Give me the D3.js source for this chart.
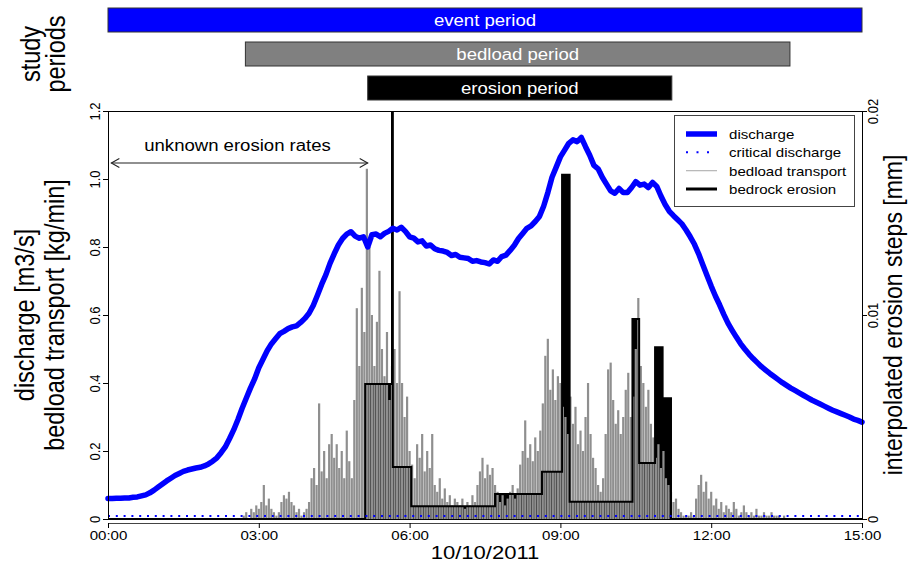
<!DOCTYPE html>
<html>
<head>
<meta charset="utf-8">
<script src="https://cdn.jsdelivr.net/npm/d3@7"></script>
<style>
  body { margin: 0; background: #fff; }
  svg { font-family: "Liberation Sans", Arial, Helvetica, sans-serif; }
</style>
</head>
<body>
<svg id="chart" width="912" height="562"></svg>
<script>
// ---- data ----
const eventDay = '2011-10-10';
const dateLabel = '10/10/2011';

const periodNames = ['event period', 'bedload period', 'erosion period'];
const periodStart = ['00:00', '02:44', '05:10'];
const periodEnd = ['15:00', '13:34', '11:13'];

const xTicks = ['00:00', '03:00', '06:00', '09:00', '12:00', '15:00'];
const yTicks = [0, 0.2, 0.4, 0.6, 0.8, 1.0, 1.2];
const yTickLabels = ['0', '0.2', '0.4', '0.6', '0.8', '1.0', '1.2'];
const yRightTicks = [0, 0.01, 0.02];
const yRightTickLabels = ['0', '0.01', '0.02'];

// discharge [m3/s], every 5 minutes from 00:00 to 15:00 (one row per hour)
const dischargeStepMin = 5;
const discharge = [
  0.060, 0.060, 0.061, 0.061, 0.062, 0.062, 0.064, 0.065, 0.068, 0.071, 0.077, 0.085,
  0.094, 0.103, 0.112, 0.120, 0.128, 0.134, 0.140, 0.144, 0.147, 0.150, 0.152, 0.156,
  0.162, 0.170, 0.180, 0.195, 0.212, 0.236, 0.262, 0.292, 0.325, 0.355, 0.385, 0.412,
  0.445, 0.470, 0.495, 0.515, 0.530, 0.545, 0.552, 0.560, 0.565, 0.568, 0.578, 0.590,
  0.605, 0.628, 0.658, 0.690, 0.718, 0.752, 0.780, 0.806, 0.825, 0.838, 0.845, 0.832,
  0.826, 0.830, 0.800, 0.836, 0.838, 0.830, 0.840, 0.846, 0.855, 0.850, 0.858, 0.846,
  0.830, 0.826, 0.815, 0.818, 0.803, 0.806, 0.795, 0.790, 0.788, 0.784, 0.775, 0.778,
  0.770, 0.768, 0.766, 0.758, 0.760, 0.756, 0.754, 0.750, 0.762, 0.758, 0.772, 0.776,
  0.790, 0.805, 0.825, 0.840, 0.855, 0.862, 0.875, 0.890, 0.920, 0.960, 1.005, 1.035,
  1.065, 1.085, 1.105, 1.115, 1.110, 1.122, 1.095, 1.070, 1.040, 1.030, 1.005, 0.985,
  0.965, 0.958, 0.972, 0.960, 0.960, 0.975, 0.992, 0.982, 0.985, 0.975, 0.990, 0.978,
  0.950, 0.925, 0.905, 0.892, 0.880, 0.868, 0.850, 0.830, 0.808, 0.780, 0.748, 0.716,
  0.685, 0.656, 0.630, 0.602, 0.576, 0.555, 0.535, 0.516, 0.500, 0.485, 0.472, 0.460,
  0.448, 0.438, 0.428, 0.419, 0.410, 0.401, 0.393, 0.385, 0.378, 0.371, 0.364, 0.357,
  0.350, 0.344, 0.338, 0.332, 0.326, 0.320, 0.315, 0.310, 0.305, 0.300, 0.294, 0.290,
  0.285
];
const criticalDischarge = 0.009;

// bedload transport [kg/min], every 3 minutes from 02:42
const bedloadStart = '02:42';
const bedloadStepMin = 3;
const bedload = [
  0.01, 0.02, 0.00, 0.03, 0.02, 0.04,
  0.03, 0.05, 0.10, 0.04, 0.06, 0.03, 0.02, 0.01, 0.02, 0.05, 0.07, 0.06, 0.08, 0.05, 0.04, 0.02, 0.03, 0.01, 0.02, 0.03,
  0.05, 0.12, 0.15, 0.10, 0.34, 0.14, 0.20, 0.12, 0.22, 0.25, 0.18, 0.22, 0.15, 0.20, 0.12, 0.26, 0.17, 0.12, 0.35, 0.62,
  0.45, 0.68, 0.55, 1.03, 0.80, 0.60, 0.45, 0.58, 0.73, 0.50, 0.42, 0.55, 0.35, 0.45, 0.50, 0.40, 0.67, 0.40, 0.30, 0.36,
  0.20, 0.16, 0.12, 0.22, 0.18, 0.25, 0.14, 0.20, 0.15, 0.25, 0.10, 0.08, 0.12, 0.06, 0.09, 0.05, 0.07, 0.04, 0.06, 0.05,
  0.04, 0.06, 0.03, 0.05, 0.04, 0.07, 0.05, 0.10, 0.14, 0.18, 0.12, 0.16, 0.13, 0.15, 0.10, 0.08, 0.05, 0.07, 0.04, 0.06,
  0.08, 0.10, 0.06, 0.09, 0.16, 0.20, 0.29, 0.18, 0.22, 0.17, 0.24, 0.20, 0.26, 0.34, 0.48, 0.53, 0.38, 0.44, 0.35, 0.42,
  0.40, 0.33, 0.30, 0.25, 0.36, 0.28, 0.33, 0.22, 0.26, 0.20, 0.30, 0.40, 0.25, 0.18, 0.15, 0.10, 0.08, 0.12, 0.25, 0.44,
  0.46, 0.35, 0.28, 0.32, 0.25, 0.30, 0.38, 0.43, 0.30, 0.36, 0.50, 0.65, 0.45, 0.40, 0.33, 0.38, 0.28, 0.24, 0.18, 0.22,
  0.15, 0.20, 0.12, 0.10, 0.08, 0.05, 0.06, 0.03, 0.02, 0.01, 0.01, 0.01, 0.02, 0.01, 0.06, 0.10, 0.13, 0.08, 0.11, 0.06,
  0.08, 0.04, 0.06, 0.03, 0.05, 0.02, 0.04, 0.03, 0.02, 0.05, 0.03, 0.01, 0.02, 0.04, 0.02, 0.01, 0.02, 0.01, 0.03, 0.01,
  0.01, 0.02, 0.01, 0.01, 0.02, 0.01, 0.01, 0.01, 0.00, 0.01, 0.00
];

// interpolated bedrock erosion steps [mm], value holds from each time to the next
const erosionTimes = ['00:00', '05:07', '05:39', '05:40', '06:02', '07:42', '08:38', '09:02', '09:11', '10:26', '10:34', '10:53', '11:02', '11:12', '15:00'];
const erosionMm = [0, 0.00662, 0.03, 0.00255, 0.00063, 0.00123, 0.00232, 0.01687, 0.00085, 0.0098, 0.00275, 0.00842, 0.00592, 0, 0];

const unknownLabel = 'unknown erosion rates';
const unknownFrom = '00:04';
const unknownTo = '05:10';

const legendLabels = ['discharge', 'critical discharge', 'bedload transport', 'bedrock erosion'];

// ---- helpers ----
const parse = d3.utcParse('%Y-%m-%d %H:%M');
const at = s => parse(`${eventDay} ${s}`);
const addMin = (d, m) => new Date(d.getTime() + m * 60000);
const SX = 1.16; // the figure is a bit wider than tall: text is stretched sideways

const svg = d3.select('#chart');
const plot = { left: 108, right: 862, top: 111, bottom: 519 };

const x = d3.scaleUtc().domain([at('00:00'), at('15:00')]).range([plot.left, plot.right]);
const y = d3.scaleLinear().domain([0, 1.2]).range([plot.bottom, plot.top]);
const yR = d3.scaleLinear().domain([0, 0.02]).range([plot.bottom, plot.top]);

function hText(g, px, py, size, str, anchor = 'middle') {
  return g.append('text')
    .attr('transform', `translate(${px},${py}) scale(${SX},1)`)
    .attr('text-anchor', anchor).attr('font-size', size)
    .text(str);
}
function vText(g, px, py, size, str) {
  return g.append('text')
    .attr('transform', `translate(${px},${py}) scale(${SX},1) rotate(-90)`)
    .attr('text-anchor', 'middle').attr('font-size', size)
    .text(str);
}

svg.append('defs').append('clipPath').attr('id', 'plotclip')
  .append('rect')
  .attr('x', plot.left).attr('y', plot.top)
  .attr('width', plot.right - plot.left).attr('height', plot.bottom - plot.top);

// ---- study period bars ----
const band = d3.scaleBand().domain(periodNames).range([8, 100]).paddingInner(10 / 34);
const periodFill = { 'event period': '#0000ff', 'bedload period': '#808080', 'erosion period': '#000000' };

const bars = svg.append('g');
periodNames.forEach((d, i) => {
  const x1 = x(at(periodStart[i])), x2 = x(at(periodEnd[i]));
  bars.append('rect')
    .attr('x', x1).attr('y', band(d))
    .attr('width', x2 - x1).attr('height', band.bandwidth())
    .attr('fill', periodFill[d])
    .attr('stroke', '#333').attr('stroke-width', 1);
  hText(bars, (x1 + x2) / 2, band(d) + band.bandwidth() / 2 + 6, 16, d).attr('fill', '#fff');
});

vText(svg, 40, 54, 23.5, 'study');
vText(svg, 65, 54, 23.5, 'periods');

// ---- bedrock erosion (filled steps) ----
const erosion = erosionTimes.map((t, i) => ({ t: at(t), v: erosionMm[i] }));
const plotG = svg.append('g').attr('clip-path', 'url(#plotclip)');

plotG.append('path')
  .datum(erosion)
  .attr('fill', '#000')
  .attr('d', d3.area().curve(d3.curveStepAfter)
    .x(d => x(d.t)).y0(yR(0)).y1(d => yR(d.v)));

// ---- bedload transport (vertical lines) ----
const t0 = at(bedloadStart);
const bed = bedload.map((v, i) => ({ t: addMin(t0, i * bedloadStepMin), v }));
plotG.append('g')
  .selectAll('line')
  .data(bed)
  .join('line')
  .attr('x1', d => x(d.t)).attr('x2', d => x(d.t))
  .attr('y1', y(0)).attr('y2', d => y(d.v))
  .attr('stroke', '#8f8f8f')
  .attr('stroke-width', 2.2);

plotG.append('path')
  .datum(erosion)
  .attr('fill', 'none')
  .attr('stroke', '#000')
  .attr('stroke-width', 2)
  .attr('d', d3.line().curve(d3.curveStepAfter).x(d => x(d.t)).y(d => yR(d.v)));

// ---- critical discharge ----
svg.append('line')
  .attr('x1', x(at('00:00'))).attr('x2', x(at('15:00')))
  .attr('y1', y(criticalDischarge)).attr('y2', y(criticalDischarge))
  .attr('stroke', '#0000ff').attr('stroke-width', 2)
  .attr('stroke-dasharray', '2,5.8');

// ---- discharge ----
const q0 = at('00:00');
const dis = discharge.map((v, i) => ({ t: addMin(q0, i * dischargeStepMin), v }));
svg.append('path')
  .datum(dis)
  .attr('fill', 'none')
  .attr('stroke', '#0000ff')
  .attr('stroke-width', 5.5)
  .attr('stroke-linejoin', 'round')
  .attr('stroke-linecap', 'round')
  .attr('d', d3.line().x(d => x(d.t)).y(d => y(d.v)));

// ---- plot frame ----
svg.append('rect')
  .attr('x', plot.left + 0.5).attr('y', plot.top + 0.5)
  .attr('width', plot.right - plot.left).attr('height', plot.bottom - plot.top)
  .attr('fill', 'none').attr('stroke', '#000');

// ---- axes ----
const gx = svg.append('g')
  .attr('transform', `translate(0,${plot.bottom + 4})`)
  .call(d3.axisBottom(x)
    .tickValues(xTicks.map(at))
    .tickFormat(d3.utcFormat('%H:%M'))
    .tickSize(5).tickSizeOuter(0));
gx.attr('font-family', null);
gx.select('.domain').attr('stroke', '#444');
gx.selectAll('.tick text')
  .attr('transform', `scale(${SX},1)`)
  .attr('font-size', 13).attr('fill', '#000');

const gl = svg.append('g')
  .attr('transform', `translate(${plot.left},0)`)
  .call(d3.axisLeft(y)
    .tickValues(yTicks)
    .tickFormat((d, i) => yTickLabels[i])
    .tickSize(5).tickSizeOuter(0));
gl.attr('font-family', null);
gl.selectAll('.tick text')
  .attr('transform', `scale(${SX},1) rotate(-90)`)
  .attr('x', 0).attr('y', -6.5).attr('dy', 0)
  .attr('text-anchor', 'middle')
  .attr('font-size', 13).attr('fill', '#000');

const gr = svg.append('g')
  .attr('transform', `translate(${plot.right},0)`)
  .call(d3.axisRight(yR)
    .tickValues(yRightTicks)
    .tickFormat((d, i) => yRightTickLabels[i])
    .tickSize(5).tickSizeOuter(0));
gr.attr('font-family', null);
gr.selectAll('.tick text')
  .attr('transform', `scale(${SX},1) rotate(-90)`)
  .attr('x', 0).attr('y', 14).attr('dy', 0)
  .attr('text-anchor', 'middle')
  .attr('font-size', 13).attr('fill', '#000');

// axis titles
const midY = (plot.top + plot.bottom) / 2;
vText(svg, 34, midY, 23.5, 'discharge [m3/s]');
vText(svg, 64, midY, 23.5, 'bedload transport [kg/min]');
vText(svg, 902, midY, 23, 'interpolated erosion steps [mm]');
hText(svg, (plot.left + plot.right) / 2, 559, 19, dateLabel);

// ---- unknown erosion rates arrow ----
const ay = y(1.047);
const ax1 = x(at(unknownFrom));
const ax2 = x(at(unknownTo));
const ann = svg.append('g').attr('stroke', '#222').attr('fill', 'none').attr('stroke-width', 1.1);
ann.append('line').attr('x1', ax1).attr('x2', ax2).attr('y1', ay).attr('y2', ay);
ann.append('path').attr('d', `M${ax1 + 8},${ay - 4.5}L${ax1},${ay}L${ax1 + 8},${ay + 4.5}`);
ann.append('path').attr('d', `M${ax2 - 8},${ay - 4.5}L${ax2},${ay}L${ax2 - 8},${ay + 4.5}`);
hText(svg, (ax1 + ax2) / 2 - 2, y(1.082), 16, unknownLabel);

// ---- legend ----
const lg = svg.append('g').attr('transform', 'translate(674,115)');
lg.append('rect').attr('x', 0.5).attr('y', 0.5).attr('width', 180).attr('height', 91)
  .attr('fill', '#fff').attr('stroke', '#444');
const rowY = d3.scalePoint().domain(legendLabels).range([19, 74]);
const legendStyle = {
  'discharge': { stroke: '#0000ff', width: 5.5, dash: null },
  'critical discharge': { stroke: '#0000ff', width: 2, dash: '2,8.5' },
  'bedload transport': { stroke: '#b4b4b4', width: 1.2, dash: null },
  'bedrock erosion': { stroke: '#000', width: 3, dash: null }
};
legendLabels.forEach(name => {
  const s = legendStyle[name];
  lg.append('line')
    .attr('x1', 12).attr('x2', 43)
    .attr('y1', rowY(name)).attr('y2', rowY(name))
    .attr('stroke', s.stroke).attr('stroke-width', s.width)
    .attr('stroke-dasharray', s.dash);
  hText(lg, 55, rowY(name) + 5, 13, name, 'start');
});
</script>
</body>
</html>
